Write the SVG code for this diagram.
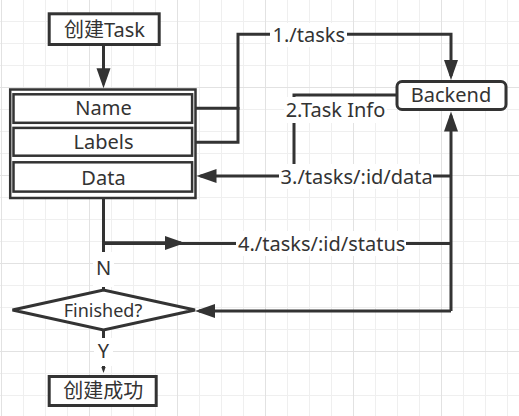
<svg xmlns="http://www.w3.org/2000/svg" width="519" height="416" viewBox="0 0 519 416">
<style>
.box{fill:#fff;stroke:#333;stroke-width:3}
.in{fill:#fff;stroke:#333;stroke-width:2.5}
.t{font-family:"Noto Sans","Noto Sans CJK SC",sans-serif;font-size:20px;fill:#333;text-anchor:middle}
.s{font-size:18px}
.e{fill:none;stroke:#333;stroke-width:3}
.bg{fill:#fff}
.ah{fill:#333}
</style>
<defs>
<pattern id="g" x="1" y="-1" width="88" height="88" patternUnits="userSpaceOnUse">
<path d="M22.5,0V88M44.5,0V88M66.5,0V88M0,22.5H88M0,44.5H88M0,66.5H88" stroke="#efefef" stroke-width="1" fill="none"/>
<path d="M0.5,0V88M0,0.5H88" stroke="#e2e2e2" stroke-width="1" fill="none"/>
</pattern>
<marker id="a" markerUnits="userSpaceOnUse" markerWidth="22" markerHeight="16" viewBox="0 0 22 16" refX="17" refY="8" orient="auto">
<path d="M1,1 L21,8 L1,15 Z" fill="#333"/>
</marker>
</defs>
<rect width="519" height="416" fill="#fff"/>
<rect width="519" height="416" fill="url(#g)"/>

<g id="connectors">
<path class="e" d="M103.5,45.5V84.3" marker-end="url(#a)"/>
<path class="e" d="M196,108.3H238V34.3H451V76" marker-end="url(#a)"/>
<path class="e" d="M196,142.3H238V107"/>
<path class="e" d="M396,95H294V176"/>
<path class="e" d="M451,176H200.5" marker-end="url(#a)"/>
<path class="e" d="M451,311V115.5" marker-end="url(#a)"/>
<path class="e" d="M451,311H199" marker-end="url(#a)"/>
<path class="e" d="M103.5,199V290"/>
<path class="e" d="M103.5,243.5H451"/>
<path class="e" d="M103.5,242.7H170" stroke-width="5"/>
<path class="e" d="M165,243H181" marker-end="url(#a)"/>
<path class="e" d="M103.5,330V368"/>
<polygon class="ah" points="101.3,367 105.7,367 103.5,373"/>
<rect class="bg" x="270" y="23" width="77" height="24"/>
<rect class="bg" x="284" y="97" width="103" height="26"/>
<rect class="bg" x="279" y="164" width="154" height="25"/>
<rect class="bg" x="236" y="231" width="170" height="25"/>
<rect class="bg" x="93" y="252" width="21" height="35"/>
<rect class="bg" x="94" y="338" width="19" height="28"/>
<text class="t" x="308.8" y="42">1./tasks</text>
<text class="t" x="335.5" y="117">2.Task Info</text>
<text class="t" x="356.7" y="184">3./tasks/:id/data</text>
<text class="t" x="321.7" y="251">4./tasks/:id/status</text>
<text class="t" x="103.5" y="275">N</text>
<text class="t" x="103.5" y="358">Y</text>
</g>

<g id="create-task">
<rect class="box" x="49.2" y="13.8" width="110" height="30.7"/>
<text class="t" x="104.5" y="37">创建Task</text>
</g>

<g id="task-form">
<rect class="in" x="10.2" y="89.5" width="185.3" height="108.5"/>
<g id="name">
<rect class="in" x="13.5" y="94.3" width="178.6" height="28.5"/>
<text class="t" x="103.5" y="115">Name</text>
</g>
<g id="labels">
<rect class="in" x="13.5" y="127.9" width="178.6" height="27.8"/>
<text class="t" x="103.5" y="149">Labels</text>
</g>
<g id="data">
<rect class="in" x="13.5" y="162.3" width="178.6" height="29.3"/>
<text class="t" x="103.5" y="185">Data</text>
</g>
</g>

<g id="backend">
<rect class="box" x="397" y="81.5" width="109" height="28" rx="5"/>
<text class="t" x="451" y="101.7">Backend</text>
</g>

<g id="finished">
<polygon class="box" points="12.5,310 103.5,290 195,310 103.5,330"/>
<text class="t s" x="103" y="317">Finished?</text>
</g>

<g id="success">
<rect class="box" x="49.2" y="376.5" width="107" height="29"/>
<text class="t" x="103.3" y="398">创建成功</text>
</g>
</svg>
